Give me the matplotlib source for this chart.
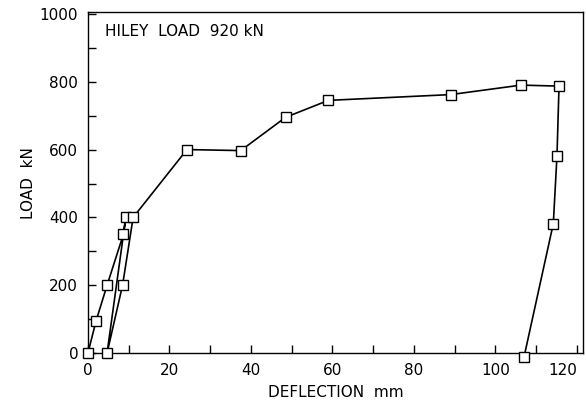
import matplotlib.pyplot as plt
import numpy as np
from matplotlib.ticker import MultipleLocator

# pile load test: deflection (mm) vs load (kN)
deflection = [0, 2.0, 4.7, 8.7, 9.3, 4.7, 8.5, 11.1, 24.3, 37.5, 48.5, 59,
              89, 106.3, 115.6, 115.1, 114.2, 107.0]
load = [0, 95, 200, 350, 400, 0, 200, 400, 600, 597, 695, 745,
        762, 790, 787, 582, 382, -12]

x_ticks = [0, 20, 40, 60, 80, 100, 120]
y_ticks = [0, 200, 400, 600, 800, 1000]
title_text = "HILEY  LOAD  920 kN"

plt.rcParams['font.family'] = ['DejaVu Sans']

fig = plt.figure(figsize=(5.86, 4.05), dpi=100)
ax = fig.add_axes([0.150, 0.128, 0.845, 0.842])

ax.plot(deflection, load, color='black', linewidth=1.2, marker='s',
        markersize=7, markerfacecolor='white', markeredgecolor='black',
        markeredgewidth=1.0, clip_on=False, zorder=3)

ax.set_xlim(0, 121.5)
ax.set_ylim(0, 1005)
ax.set_xticks(x_ticks)
ax.set_yticks(y_ticks)
ax.xaxis.set_minor_locator(MultipleLocator(10))
ax.yaxis.set_minor_locator(MultipleLocator(100))
ax.tick_params(which='both', direction='in', length=6, width=1.0,
               labelsize=11, pad=7)

# last x label would run past the figure edge, right-align it like the scan
for lab in ax.get_xticklabels():
    if lab.get_text() == '120':
        lab.set_horizontalalignment('right')

for s in ax.spines.values():
    s.set_linewidth(1.0)

ax.text(0.035, 0.965, title_text, transform=ax.transAxes, fontsize=11,
        va='top', ha='left')
ax.set_xlabel("DEFLECTION  mm", fontsize=11)
ax.set_ylabel("LOAD  kN", fontsize=11)
ax.xaxis.set_label_coords(0.5, -0.092)
ax.yaxis.set_label_coords(-0.105, 0.5)

fig.savefig("out.png", dpi=100)
